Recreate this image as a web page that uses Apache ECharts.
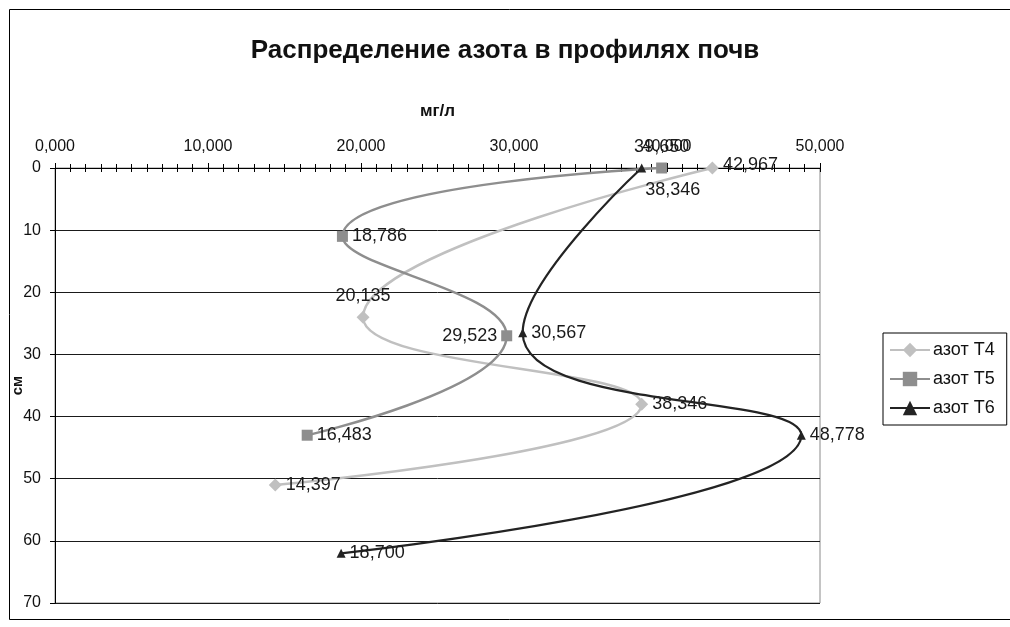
<!DOCTYPE html>
<html>
<head>
<meta charset="utf-8">
<title>Распределение азота в профилях почв</title>
<script src="https://cdn.jsdelivr.net/npm/echarts@6/dist/echarts.min.js"></script>
<style>
  html, body { margin: 0; padding: 0; background: #fff; }
  #chart { width: 1010px; height: 627px; }
</style>
</head>
<body>
<div id="chart"></div>
<script>
// Nitrogen content (mg/l) by depth (cm) for three soil profiles
const seriesNames = ['азот T4', 'азот T5', 'азот T6'];
const t4Nitrogen = [42.967, 20.135, 38.346, 14.397];
const t4Depth = [0, 24, 38, 51];
const t5Nitrogen = [39.650, 18.786, 29.523, 16.483];
const t5Depth = [0, 11, 27, 43];
const t6Nitrogen = [38.346, 30.567, 48.778, 18.700];
const t6Depth = [0, 26.5, 43, 62];

// Axis ranges
const nitrogenMin = 0, nitrogenMax = 50, nitrogenStep = 10;
const depthMin = 0, depthMax = 70, depthStep = 10;

// Where each point's value label sits
const t4LabelPos = ['right', 'top', 'right', 'right'];
const t5LabelPos = ['top', 'right', 'left', 'right'];
const t6LabelPos = ['bottom', 'right', 'right', 'right'];

const FONT = "'Liberation Sans', Arial, sans-serif";
const fmt = v => v.toFixed(3).replace('.', ',');

function buildPoints(xs, ys, positions) {
  return xs.map((x, i) => {
    const pos = positions[i];
    const label = { position: pos };
    if (pos === 'top') { label.distance = 6; }
    if (pos === 'bottom') { label.distance = 9; label.offset = [31, 0]; }
    if (pos === 'right' && ys[i] === 0) { label.offset = [0, -3]; }
    return { value: [x, ys[i]], label };
  });
}

const styles = [
  { color: '#c0c0c0', symbol: 'diamond', size: 13, width: 2.5 },
  { color: '#8e8e8e', symbol: 'rect', size: 11, width: 2.5 },
  { color: '#232323', symbol: 'triangle', size: 9, width: 2.2 }
];

const datasets = [
  buildPoints(t4Nitrogen, t4Depth, t4LabelPos),
  buildPoints(t5Nitrogen, t5Depth, t5LabelPos),
  buildPoints(t6Nitrogen, t6Depth, t6LabelPos)
];

const chart = echarts.init(document.getElementById('chart'), null, { renderer: 'canvas' });

chart.setOption({
  backgroundColor: '#fff',
  animation: false,
  textStyle: { fontFamily: FONT },
  title: {
    text: 'Распределение азота в профилях почв',
    left: 'center',
    top: 33,
    textStyle: { fontFamily: FONT, fontSize: 26, fontWeight: 'bold', color: '#111' }
  },
  legend: {
    orient: 'vertical',
    left: 883,
    top: 333,
    width: 124,
    padding: [8, 12, 8, 6],
    itemGap: 11,
    itemWidth: 40,
    itemHeight: 18,
    borderColor: '#000',
    borderWidth: 1,
    textStyle: { fontFamily: FONT, fontSize: 18, color: '#111', padding: [0, 0, 0, -2] },
    data: seriesNames
  },
  graphic: [{
    type: 'polyline',
    shape: { points: [[1010, 9.5], [9.5, 9.5], [9.5, 619.5], [1010, 619.5]] },
    style: { fill: null, stroke: '#000', lineWidth: 1 },
    silent: true,
    z: -10
  }],
  grid: {
    left: 55, right: 190, top: 168, bottom: 24,
    outerBoundsMode: 'none',
    containLabel: false,
    show: true, borderColor: '#8a8a8a', borderWidth: 1, backgroundColor: 'transparent'
  },
  xAxis: [{
    type: 'value',
    position: 'top',
    min: nitrogenMin, max: nitrogenMax, interval: nitrogenStep,
    name: 'мг/л',
    nameLocation: 'middle',
    nameGap: 48,
    nameTextStyle: { fontFamily: FONT, fontSize: 17, fontWeight: 'bold', color: '#111' },
    axisLine: { show: true, lineStyle: { color: '#000', width: 1 } },
    axisTick: { show: true, length: 5, lineStyle: { color: '#000' } },
    minorTick: { show: true, splitNumber: 10, length: 4, lineStyle: { color: '#000' } },
    axisLabel: { formatter: fmt, margin: 13, fontFamily: FONT, fontSize: 16, color: '#111' },
    splitLine: { show: false }
  }, {
    type: 'value',
    position: 'top',
    min: nitrogenMin, max: nitrogenMax, interval: nitrogenStep,
    axisLine: { show: false },
    axisTick: { show: true, inside: true, length: 4, lineStyle: { color: '#000' } },
    minorTick: { show: true, splitNumber: 10, length: 4, lineStyle: { color: '#000' } },
    axisLabel: { show: false },
    splitLine: { show: false }
  }],
  yAxis: {
    type: 'value',
    inverse: true,
    min: depthMin, max: depthMax, interval: depthStep,
    name: 'см',
    nameLocation: 'middle',
    nameGap: 30,
    nameMoveOverlap: false,
    nameRotate: 90,
    nameTextStyle: { fontFamily: FONT, fontSize: 15, fontWeight: 'bold', color: '#111' },
    axisLine: { show: true, lineStyle: { color: '#000', width: 1 } },
    axisTick: { show: true, length: 5, lineStyle: { color: '#000' } },
    axisLabel: { margin: 14, fontFamily: FONT, fontSize: 16, color: '#111' },
    splitLine: { show: true, lineStyle: { color: '#1a1a1a', width: 1 } }
  },
  series: datasets.map((data, i) => ({
    name: seriesNames[i],
    type: 'line',
    xAxisIndex: 0,
    smooth: 0.5,
    data: data,
    symbol: styles[i].symbol,
    symbolSize: styles[i].size,
    itemStyle: { color: styles[i].color },
    lineStyle: { color: styles[i].color, width: styles[i].width },
    label: {
      show: true,
      formatter: p => fmt(p.value[0]),
      fontFamily: FONT,
      fontSize: 18,
      color: '#1a1a1a',
      distance: 4
    },
    z: 3 + i
  }))
});
</script>
</body>
</html>
